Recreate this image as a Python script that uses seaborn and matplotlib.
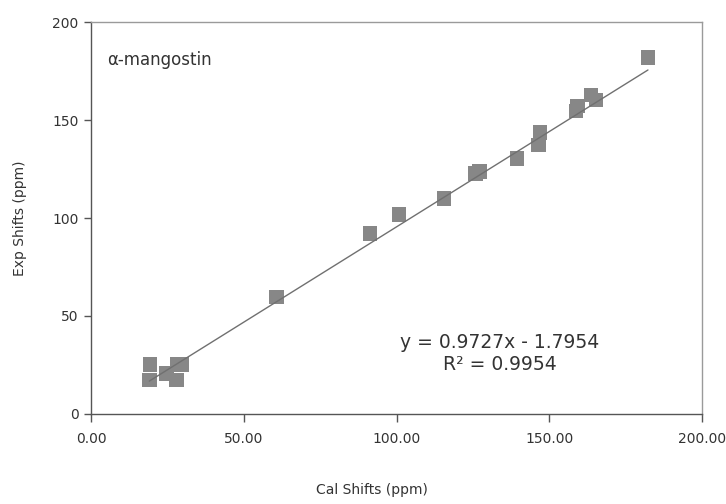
import numpy as np
import pandas as pd
import matplotlib
matplotlib.use("Agg")
import matplotlib.pyplot as plt
import seaborn as sns

# calculated vs experimental shifts (ppm)
cal_shifts = [19.1, 19.3, 24.8, 28.0, 28.2, 29.7, 60.8, 91.3, 100.8, 115.5,
              125.9, 127.1, 139.5, 146.4, 147.0, 158.8, 159.2, 163.6, 165.3, 182.3]
exp_shifts = [17.3, 25.3, 20.8, 17.3, 25.3, 25.3, 59.8, 92.2, 101.9, 110.0,
              122.8, 123.6, 130.4, 137.2, 143.5, 154.7, 157.1, 162.8, 160.2, 182.0]

slope = 0.9727
intercept = -1.7954
r2 = 0.9954

x_ticks = [0, 50, 100, 150, 200]
y_ticks = [0, 50, 100, 150, 200]

df = pd.DataFrame({'cal': cal_shifts, 'exp': exp_shifts})

sns.set_style("white")
plt.rcParams['font.family'] = ['DejaVu Sans']

fig = plt.figure(figsize=(7.26, 5.04), dpi=100)
ax = fig.add_axes([0.1253, 0.1786, 0.8417, 0.7777])

# trendline over the data range
line_x = np.array([min(cal_shifts), max(cal_shifts)])
line_df = pd.DataFrame({'x': line_x, 'y': slope * line_x + intercept})
sns.lineplot(data=line_df, x='x', y='y', ax=ax, color='#707070', linewidth=1.0, zorder=3)

sns.scatterplot(data=df, x='cal', y='exp', ax=ax, marker='s', s=110,
                color='#878787', edgecolor='none', linewidth=0, zorder=2)

ax.set_xlim(0, 200)
ax.set_ylim(0, 200)
ax.set_xticks(x_ticks)
ax.set_xticklabels([f'{t:.2f}' for t in x_ticks])
ax.set_yticks(y_ticks)
ax.set_yticklabels([str(t) for t in y_ticks])

for side in ['top', 'right']:
    ax.spines[side].set_color('#9a9a9a')
    ax.spines[side].set_linewidth(1.0)
for side in ['left', 'bottom']:
    ax.spines[side].set_color('#555555')
    ax.spines[side].set_linewidth(1.0)

ax.tick_params(axis='x', direction='out', length=6, width=1, color='#555555',
               pad=7, labelsize=10, labelcolor='#333333', bottom=True)
ax.tick_params(axis='y', direction='out', length=5, width=1, color='#555555',
               pad=4, labelsize=10, labelcolor='#333333', left=True)

ax.set_xlabel('Cal Shifts (ppm)', fontsize=10, color='#333333')
ax.xaxis.set_label_coords(0.46, -0.176)
ax.set_ylabel('Exp Shifts (ppm)', fontsize=10, color='#333333', labelpad=18)

ax.text(5.2, 180.6, 'α-mangostin', fontsize=12, color='#333333', va='center', ha='left')
ax.text(133.9, 36.7, f'y = {slope}x - {abs(intercept)}', fontsize=13.5, color='#333333',
        va='center', ha='center')
ax.text(133.9, 25.5, f'R² = {r2}', fontsize=13.5, color='#333333', va='center', ha='center')

fig.savefig('out.png', dpi=100)
plt.close(fig)
